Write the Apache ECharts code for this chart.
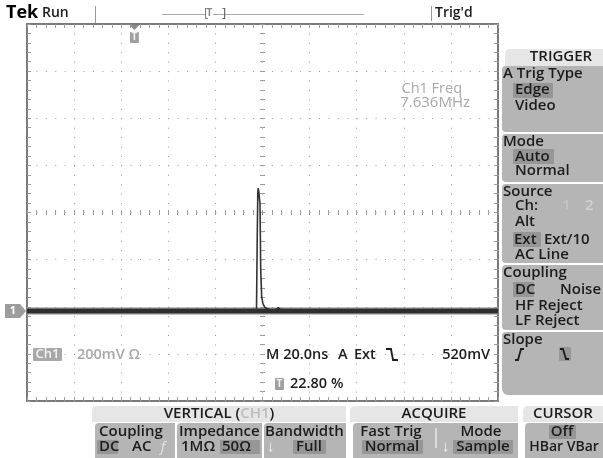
<!DOCTYPE html>
<html><head><meta charset="utf-8">
<script src="https://cdn.jsdelivr.net/npm/echarts@6/dist/echarts.min.js"></script>
<style>html,body{margin:0;padding:0;background:#fff}#c{width:603px;height:458px}</style>
</head><body><div id="c"></div>
<script>
const MV_PER_DIV = 200;          // 200 mV/div
const NS_PER_DIV = 20;           // M 20.0ns
const GROUND_DIV = -2.09;        // ch1 ground marker position (divisions from centre)
const X_RANGE_NS = [-100, 100];  // 10 horizontal divisions
const Y_RANGE_DIV = [-4, 4];     // 8 vertical divisions
const baselineT  = [-100, 100];
const baselineMV = [0, 0];
const pulseT  = [-8, -2.55, -2.25, -2.0, -1.8, -1.5, -1.06, -0.76, -0.34, 0.2, 1.06, 3.2, 5.7, 6.7, 7.9, 11.7];
const pulseMV = [0, 0, 300, 500, 522, 500, 455, 175, 60, 30, 15, 5, 5, 14, 4, 0];
const triggerPosPct = 22.80;
const trigLevel = '520mV';
const freqText = '7.636MHz';

const toDiv = mv => mv / MV_PER_DIV + GROUND_DIV;
const baseData = baselineT.map((t, i) => [t, toDiv(baselineMV[i])]);
const pulseData = pulseT.map((t, i) => [t, toDiv(pulseMV[i])]);

const FONT = 'Open Sans';
const FS = 15;
const DARK = '#1c1c1c';
const PANEL = '#b5b5b5';
const HILITE = '#969696';
const TAB = '#e6e6e6';
const GRATI = '#9a9a9a';

const G = {left: 27, top: 24, width: 471, height: 377};
const dot = [1, G.height / 40 - 1];
const dotH = [1, G.width / 50 - 1];

const chart = echarts.init(document.getElementById('c'), null, {renderer: 'canvas'});

function edgeX(pos, idx) {
  return {type: 'value', gridIndex: idx, min: X_RANGE_NS[0], max: X_RANGE_NS[1], interval: NS_PER_DIV, position: pos,
    axisLine: {show: false, onZero: false}, axisLabel: {show: false},
    axisTick: {show: true, inside: true, length: 4, lineStyle: {color: GRATI}},
    minorTick: {show: true, splitNumber: 5, length: 4, lineStyle: {color: GRATI}},
    splitLine: {show: false}};
}
function edgeY(pos, idx) {
  return {type: 'value', gridIndex: idx, min: Y_RANGE_DIV[0], max: Y_RANGE_DIV[1], interval: 1, position: pos,
    axisLine: {show: false, onZero: false}, axisLabel: {show: false},
    axisTick: {show: true, inside: true, length: 4, lineStyle: {color: GRATI}},
    minorTick: {show: true, splitNumber: 5, length: 4, lineStyle: {color: GRATI}},
    splitLine: {show: false}};
}
function centreX(idx, inside) {
  return {type: 'value', gridIndex: idx, min: X_RANGE_NS[0], max: X_RANGE_NS[1], interval: NS_PER_DIV,
    axisLine: {show: false, onZero: true}, axisLabel: {show: false},
    axisTick: {show: true, inside: inside, length: 2.5, lineStyle: {color: GRATI}},
    minorTick: {show: true, splitNumber: 5, length: 2.5, lineStyle: {color: GRATI}},
    splitLine: {show: false}};
}
function centreY(idx, inside) {
  return {type: 'value', gridIndex: idx, min: Y_RANGE_DIV[0], max: Y_RANGE_DIV[1], interval: 1,
    axisLine: {show: false, onZero: true}, axisLabel: {show: false},
    axisTick: {show: true, inside: inside, length: 2.5, lineStyle: {color: GRATI}},
    minorTick: {show: true, splitNumber: 5, length: 2.5, lineStyle: {color: GRATI}},
    splitLine: {show: false}};
}

const xAxes = [edgeX('bottom', 0), edgeX('top', 0), centreX(1, true), centreX(2, false)];
xAxes[0].splitLine = {show: true, lineStyle: {color: GRATI, width: 1, type: dot}};
const yAxes = [edgeY('left', 0), edgeY('right', 0), centreY(1, true), centreY(2, false)];
yAxes[0].splitLine = {show: true, lineStyle: {color: GRATI, width: 1, type: dotH}};

// ---- static text / panels ----
const els = [];
function T(x, y, s, o = {}) {
  els.push({type: 'text', x, y, z: 20, style: Object.assign({text: s, fill: DARK, font: `600 ${o.size || FS}px "${FONT}"`,
    textAlign: o.align || 'left', textVerticalAlign: 'middle'}, o.style || {})});
}
function R(x, y, w, h, fill, r = 0, z = 5) {
  els.push({type: 'rect', z, shape: {x, y, width: w, height: h, r}, style: {fill}});
}
// top status bar
T(6, 13, 'Tek', {style: {font: `bold 18px "${FONT}"`, fill: '#000'}});
T(42, 13, 'Run', {size: 14});
els.push({type: 'line', z: 5, shape: {x1: 95.5, y1: 6, x2: 95.5, y2: 23}, style: {stroke: '#999', lineWidth: 1}});
els.push({type: 'line', z: 5, shape: {x1: 162, y1: 14.5, x2: 364, y2: 14.5}, style: {stroke: '#aaa', lineWidth: 1}});
els.push({type: 'line', z: 5, shape: {x1: 431.5, y1: 6, x2: 431.5, y2: 21}, style: {stroke: '#999', lineWidth: 1}});
T(435, 13, "Trig'd", {size: 14});
T(204, 13, '[', {style: {fill: '#777', font: `13px "${FONT}"`}});
R(206, 8, 7, 11, '#fff', 0, 6);
T(209.5, 13, 'T', {align: 'center', style: {fill: '#888', font: `bold 10px "${FONT}"`}});
T(222, 13, ']', {style: {fill: '#555', font: `13px "${FONT}"`}});

// readouts inside graticule
T(462, 89, 'Ch1 Freq', {align: 'right', style: {fill: '#a8a8a8', font: `14.5px "${FONT}"`}});
T(470, 103, freqText, {align: 'right', style: {fill: '#a8a8a8', font: `15px "${FONT}"`}});
R(33, 348, 29, 13, '#a8a8a8', 1, 6);
T(47.5, 354.5, 'Ch1', {align: 'center', style: {fill: '#f2f2f2', font: `600 13px "${FONT}"`}});
T(77, 354.5, '200mV \u03a9', {style: {fill: '#a8a8a8', font: `600 14.5px "${FONT}"`}});
T(266, 354.5, 'M 20.0ns', {size: 14.5});
T(338, 354.5, 'A', {size: 14.5});
T(354, 354.5, 'Ext', {size: 14.5});
els.push({type: 'polyline', z: 20, shape: {points: [[386, 349], [391, 349], [393, 360], [398, 360]]}, style: {stroke: DARK, lineWidth: 1.8, fill: null}});
T(490, 354.5, trigLevel, {align: 'right', size: 14.5});
R(275, 378, 9, 12, '#a0a0a0', 1, 6);
T(279.5, 384, 'T', {align: 'center', style: {fill: '#f0f0f0', font: `bold 10px "${FONT}"`}});
T(290, 384, triggerPosPct.toFixed(2) + ' %', {size: 14.5});

// right TRIGGER menu
R(505, 49, 98, 17, TAB, [5, 0, 0, 0]);
T(561, 57, 'TRIGGER', {align: 'center'});
R(502, 66, 101, 66, PANEL, [4, 0, 0, 4]);
R(502, 134, 101, 48, PANEL, [4, 0, 0, 4]);
R(502, 184, 101, 79, PANEL, [4, 0, 0, 4]);
R(502, 265, 101, 65, PANEL, [4, 0, 0, 4]);
R(502, 332, 101, 63, PANEL, [4, 0, 0, 6]);
R(513, 83, 40, 15, HILITE, 1, 6);
R(513, 149, 41, 15, HILITE, 1, 6);
R(513, 232, 28, 15, HILITE, 1, 6);
R(513, 282, 21, 15, HILITE, 1, 6);
R(559, 347, 12, 14, HILITE, 1, 6);
T(503, 74, 'A Trig Type');
T(515, 90, 'Edge');
T(515, 106, 'Video');
T(503, 142, 'Mode');
T(515, 157, 'Auto');
T(515, 171, 'Normal');
T(503, 192, 'Source');
T(515, 206, 'Ch:');
T(562, 206, '1', {style: {fill: '#c4c4c4'}});
T(585, 206, '2', {style: {fill: '#d2d2d2'}});
T(515, 222, 'Alt');
T(514, 240, 'Ext');
T(544, 240, 'Ext/10');
T(515, 255, 'AC Line');
T(503, 273, 'Coupling');
T(515, 290, 'DC');
T(560, 290, 'Noise');
T(515, 306, 'HF Reject');
T(515, 321, 'LF Reject');
T(503, 340, 'Slope');
els.push({type: 'polyline', z: 20, shape: {points: [[515, 360], [518, 360], [521, 349], [524, 349]]}, style: {stroke: DARK, lineWidth: 1.8, fill: null}});
els.push({type: 'polyline', z: 20, shape: {points: [[560, 349], [563, 349], [566, 359], [569, 359]]}, style: {stroke: DARK, lineWidth: 1.8, fill: null}});

// bottom menus
R(92, 406, 254, 16, TAB, [5, 0, 0, 0]);
els.push({type: 'text', x: 219, y: 414, z: 20, style: {text: '{a|VERTICAL (}{b|CH1}{a|)}', textAlign: 'center', textVerticalAlign: 'middle',
  rich: {a: {fill: DARK, font: `600 ${FS}px "${FONT}"`}, b: {fill: '#bdbdbd', font: `600 ${FS}px "${FONT}"`}}}});
R(95, 423, 80, 35, PANEL, [4, 0, 0, 0]);
R(177, 423, 85, 35, PANEL, [4, 0, 0, 0]);
R(264, 423, 82, 35, PANEL, [4, 0, 0, 0]);
R(350, 406, 168, 16, TAB, [5, 0, 0, 0]);
T(434, 414, 'ACQUIRE', {align: 'center'});
R(353, 423, 165, 35, PANEL, [4, 0, 0, 0]);
R(523, 406, 80, 16, TAB, [5, 0, 0, 0]);
T(563, 414, 'CURSOR', {align: 'center'});
R(525, 423, 78, 35, PANEL, [4, 0, 0, 0]);
els.push({type: 'line', z: 6, shape: {x1: 436, y1: 428, x2: 436, y2: 448}, style: {stroke: '#e8e8e8', lineWidth: 1.5}});
R(97, 440, 21, 14, HILITE, 1, 6);
R(220, 440, 40, 14, HILITE, 1, 6);
R(293, 440, 33, 14, HILITE, 1, 6);
R(362, 440, 61, 14, HILITE, 1, 6);
R(453, 440, 60, 14, HILITE, 1, 6);
R(549, 425, 27, 14, HILITE, 1, 6);
T(99, 432, 'Coupling');
T(179, 432, 'Impedance');
T(265, 432, 'Bandwidth');
T(99, 447, 'DC');
T(132, 447, 'AC');
T(159, 447, '\u0192', {style: {fill: '#e0e0e0', font: `italic ${FS}px "${FONT}"`}});
T(181, 447, '1M\u03a9');
T(222, 447, '50\u03a9');
T(267, 447, '\u2193', {style: {fill: '#f4f4f4'}});
T(296, 447, 'Full');
T(391, 432, 'Fast Trig', {align: 'center'});
T(392, 447, 'Normal', {align: 'center'});
T(442, 447, '\u2193', {style: {fill: '#f4f4f4'}});
T(481, 432, 'Mode', {align: 'center'});
T(483, 447, 'Sample', {align: 'center'});
T(562, 432, 'Off', {align: 'center'});
T(564, 447, 'HBar VBar', {align: 'center', size: 14});

chart.setOption({
  animation: false,
  backgroundColor: '#fff',
  grid: [
    Object.assign({show: true, borderColor: '#7a7a7a', borderWidth: 2, backgroundColor: '#fff', z: 0}, G),
    Object.assign({}, G), Object.assign({}, G)
  ],
  xAxis: xAxes,
  yAxis: yAxes,
  series: [
    {type: 'line', xAxisIndex: 0, yAxisIndex: 0, data: baseData, symbol: 'none', z: 9,
      lineStyle: {color: '#8a8a8a', width: 7}},
    {type: 'line', xAxisIndex: 0, yAxisIndex: 0, data: baseData, symbol: 'none', z: 10,
      lineStyle: {color: '#2e2e2e', width: 4.5}},
    {type: 'line', xAxisIndex: 0, yAxisIndex: 0, data: pulseData, symbol: 'none', z: 11,
      lineStyle: {color: '#333', width: 1.6}}
  ],
  graphic: els
});

// markers placed through the axis scales
const gy = chart.convertToPixel({yAxisIndex: 0}, GROUND_DIV);
const tx = chart.convertToPixel({xAxisIndex: 0}, X_RANGE_NS[0] + (X_RANGE_NS[1] - X_RANGE_NS[0]) * triggerPosPct / 100);
chart.setOption({graphic: els.concat([
  {type: 'polygon', z: 20, shape: {points: [[5, gy - 7], [20, gy - 7], [26, gy], [20, gy + 7], [5, gy + 7]]}, style: {fill: '#9c9c9c'}},
  {type: 'text', x: 13, y: gy, z: 21, style: {text: '1', fill: '#fff', font: `bold 11px "${FONT}"`, textAlign: 'center', textVerticalAlign: 'middle'}},
  {type: 'polygon', z: 20, shape: {points: [[tx - 5, 25], [tx + 5, 25], [tx, 30]]}, style: {fill: '#8a8a8a'}},
  {type: 'rect', z: 20, shape: {x: tx - 4.5, y: 32, width: 9, height: 11, r: 1}, style: {fill: '#a0a0a0'}},
  {type: 'text', x: tx, y: 37.5, z: 21, style: {text: 'T', fill: '#f0f0f0', font: `bold 10px "${FONT}"`, textAlign: 'center', textVerticalAlign: 'middle'}}
])}, {replaceMerge: ['graphic']});
</script></body></html>
